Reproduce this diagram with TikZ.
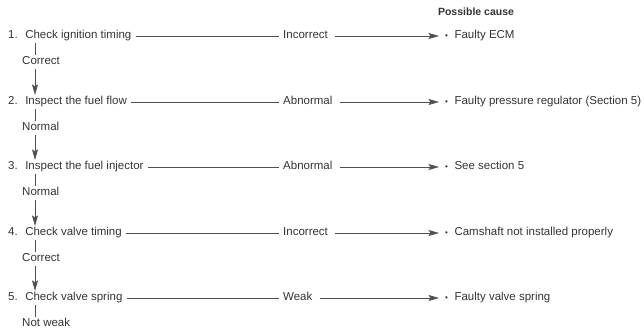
\documentclass[tikz,border=0pt]{standalone}
\usepackage{fontspec}
\setmainfont{Liberation Sans}
\usepackage{xcolor}
\usetikzlibrary{arrows.meta}

\definecolor{ink}{HTML}{333333}
\definecolor{wirecol}{HTML}{505050}
\newcommand{\stepno}[1]{#1.\hspace{7.5pt}}
\newcommand{\bul}{{\footnotesize\textbullet}\hspace{6.5pt}}

\begin{document}
\begin{tikzpicture}[x=1pt, y=-1pt, font=\fontsize{11.5}{13}\selectfont, text=ink,
        txt/.style={anchor=west, inner xsep=4pt, inner ysep=1.5pt,
            text height=8.3pt, text depth=2.5pt},
        wire/.style={draw=wirecol, line width=0.7pt},
        >={Stealth[length=10.5pt, width=6pt, inset=2pt]}]

        \useasboundingbox (0,0) rectangle (644,329);
        \coordinate (v) at (35,0);

        \node[font=\fontsize{10.5}{12}\selectfont\bfseries] (head) at (476,12) {Possible cause};

        % steps
        \node[txt] (s1) at (4,36) {\stepno{1}Check ignition timing};
        \node[txt] (s2) at (4,102) {\stepno{2}Inspect the fuel flow};
        \node[txt] (s3) at (4,167) {\stepno{3}Inspect the fuel injector};
        \node[txt] (s4) at (4,233) {\stepno{4}Check valve timing};
        \node[txt] (s5) at (4,298) {\stepno{5}Check valve spring};

        % good outcomes
        \node[txt] (n1) at (18,62) {Correct};
        \node[txt] (n2) at (18,128) {Normal};
        \node[txt] (n3) at (18,193) {Normal};
        \node[txt] (n4) at (18,259) {Correct};
        \node[txt] (n5) at (18,324) {Not weak};

        % bad outcomes
        \node[txt] (r1) at (279,36) {Incorrect};
        \node[txt] (r2) at (279,102) {Abnormal};
        \node[txt] (r3) at (279,167) {Abnormal};
        \node[txt] (r4) at (279,233) {Incorrect};
        \node[txt] (r5) at (279,298) {Weak};

        % causes
        \node[txt] (c1) at (441,36) {\bul Faulty ECM};
        \node[txt] (c2) at (441,102) {\bul Faulty pressure regulator (Section 5)};
        \node[txt] (c3) at (441,167) {\bul See section 5};
        \node[txt] (c4) at (441,233) {\bul Camshaft not installed properly};
        \node[txt] (c5) at (441,298) {\bul Faulty valve spring};

        \draw[wire] (s1.east) -- (r1.west);
        \draw[wire] (s2.east) -- (r2.west);
        \draw[wire] (s3.east) -- (r3.west);
        \draw[wire] (s4.east) -- (r4.west);
        \draw[wire] (s5.east) -- (r5.west);

        \draw[wire, ->, shorten <=3pt, shorten >=2pt] (r1.east) -- (c1.west);
        \draw[wire, ->, shorten <=3pt, shorten >=2pt] (r2.east) -- (c2.west);
        \draw[wire, ->, shorten <=3pt, shorten >=2pt] (r3.east) -- (c3.west);
        \draw[wire, ->, shorten <=3pt, shorten >=2pt] (r4.east) -- (c4.west);
        \draw[wire, ->, shorten <=3pt, shorten >=2pt] (r5.east) -- (c5.west);

        \draw[wire] (s1.south -| v) -- (n1.north -| v);
        \draw[wire] (s2.south -| v) -- (n2.north -| v);
        \draw[wire] (s3.south -| v) -- (n3.north -| v);
        \draw[wire] (s4.south -| v) -- (n4.north -| v);
        \draw[wire] (s5.south -| v) -- (n5.north -| v);

        \draw[wire, ->] (n1.south -| v) -- (s2.north -| v);
        \draw[wire, ->] (n2.south -| v) -- (s3.north -| v);
        \draw[wire, ->] (n3.south -| v) -- (s4.north -| v);
        \draw[wire, ->] (n4.south -| v) -- (s5.north -| v);

    \end{tikzpicture}
\end{document}
